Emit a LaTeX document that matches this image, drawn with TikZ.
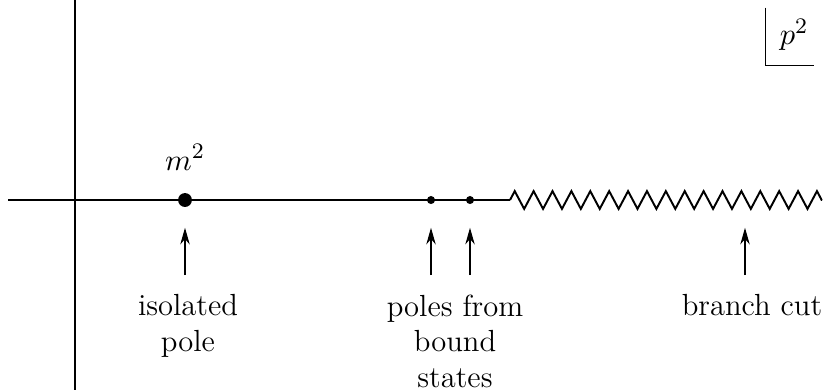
\documentclass[tikz,border=0pt]{standalone}
\usepackage{amsmath}
\usepackage{tikz}
\usetikzlibrary{arrows.meta, decorations.pathmorphing}

\tikzset{
  pole/.style={circle, fill, inner sep=0pt},
  lbl/.style={align=center, anchor=north, inner sep=0pt, font=\fontsize{11}{12.9}\selectfont},
  uparrow/.style={->, shorten <=6.8pt, shorten >=10pt},
}

\begin{document}
\begin{tikzpicture}[x=0.36pt, y=-0.36pt, line width=0.4pt, >={Stealth[length=6pt, width=3.4pt]}]
  \useasboundingbox (0,0) rectangle (824,390);
  % axes
  \draw (75,0) -- (75,390);
  \draw (8,200) -- (510,200);
  \draw[line width=0.7pt, decorate, decoration={zigzag, segment length=6.8pt, amplitude=3.2pt}] (510,200) -- (822,200);
  % poles on the real axis
  \node[pole, minimum size=5pt] (m) at (185,200) {};
  \node[anchor=base, inner sep=0pt, font=\fontsize{11}{13}\selectfont] (mlbl) at (185,170) {$m^2$};
  \node[pole, minimum size=2.9pt] (b1) at (431,200) {};
  \node[pole, minimum size=2.9pt] (b2) at (470,200) {};
  \coordinate (cut) at (745,200);
  % labels
  \node[lbl] (iso) at (188,294) {isolated\\pole};
  \node[lbl] (bs) at (455,294) {poles from\\bound\\states};
  \node[lbl] (bc) at (752,294) {branch cut};
  % arrows
  \draw[uparrow] (m |- iso.north) -- (m.center);
  \draw[uparrow] (b1 |- bs.north) -- (b1.center);
  \draw[uparrow] (b2 |- bs.north) -- (b2.center);
  \draw[uparrow] (cut |- bc.north) -- (cut);
  % plane label
  \node[inner sep=0pt, font=\fontsize{11}{13}\selectfont] (p2) at (794,35) {$p^2$};
  \draw ([xshift=-5pt, yshift=4pt]p2.north west) |- ([xshift=2pt, yshift=-5pt]p2.south east);
\end{tikzpicture}
\end{document}
